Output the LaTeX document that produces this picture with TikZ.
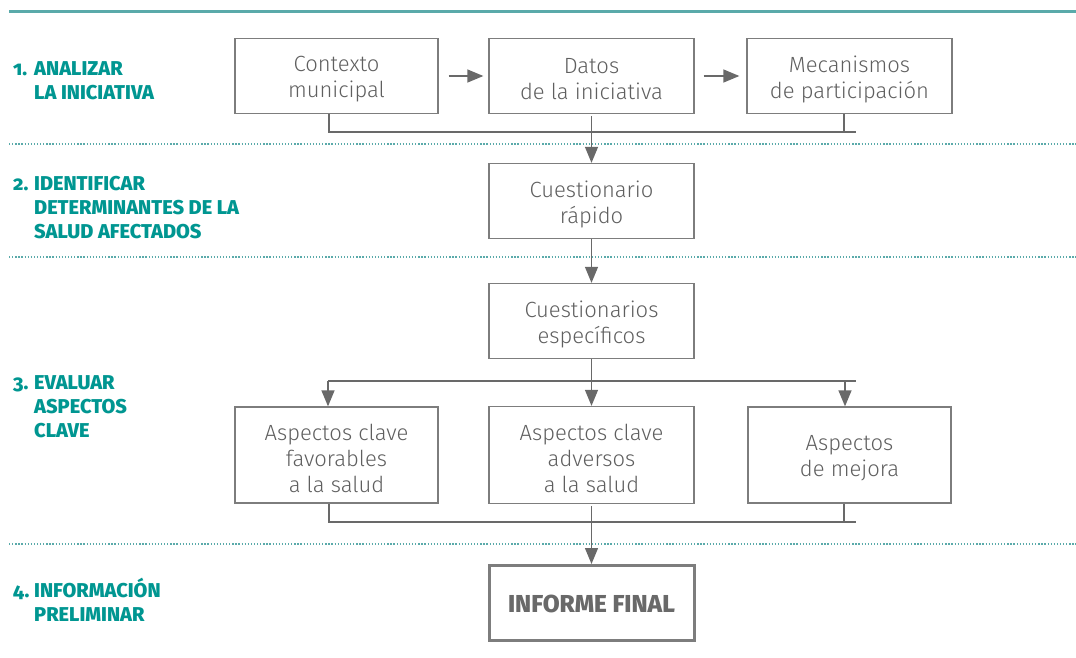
\documentclass[tikz,border=0pt]{standalone}
\usepackage{fontspec}
\setmainfont{Fira Sans}[UprightFont={* Light}, BoldFont={* Bold}]
\newfontfamily\labfont{Fira Sans}[UprightFont={* ExtraBold}, Numbers=OldStyle]
\usetikzlibrary{arrows.meta}
\definecolor{teal1}{RGB}{0,150,145}
\definecolor{tealline}{RGB}{90,170,170}
\definecolor{boxgray}{RGB}{125,125,125}
\definecolor{txtgray}{RGB}{95,95,95}
\definecolor{arrgray}{RGB}{105,105,105}
\newcommand{\steplabel}[3]{\begin{tabular}[t]{@{}l@{}l@{}}\makebox[21pt][l]{#1}&#2\\#3\end{tabular}}
\begin{document}
\begin{tikzpicture}[x=1pt,y=-1pt,
  box/.style={draw=boxgray, line width=1.3pt, minimum width=203pt, minimum height=75pt, inner sep=0pt},
  txt/.style={text=txtgray, align=center, inner sep=0pt, font=\fontsize{22}{26}\selectfont},
  conn/.style={draw=arrgray, line width=1.3pt},
  arr/.style={conn, -{Triangle[length=16pt,width=13pt]}},
  sepline/.style={draw=tealline, line width=1.3pt, dash pattern=on 1.3pt off 1.8pt},
  lab/.style={text=teal1, anchor=base west, inner sep=0pt, font=\labfont\fontsize{20}{24}\selectfont}
]
\useasboundingbox (0,0) rectangle (1076,657);

% rules
\draw[tealline, line width=3pt] (9,11) -- (1076,11);
\draw[sepline] (9,144) -- (1076,144);
\draw[sepline] (9,257) -- (1076,257);
\draw[sepline] (9,544) -- (1076,544);

% step labels
\node[lab] (l1) at (13,75) {\steplabel{1.}{ANALIZAR}{&LA INICIATIVA}};
\node[lab] (l2) at (13,190) {\steplabel{2.}{IDENTIFICAR}{&DETERMINANTES DE LA\\&SALUD AFECTADOS}};
\node[lab] (l3) at (13,389) {\steplabel{3.}{EVALUAR}{&ASPECTOS\\&CLAVE}};
\node[lab] (l4) at (13,597) {\steplabel{4.}{INFORMACIÓN}{&PRELIMINAR}};

% boxes
\node[box] (ctx) at (336.5,76) {};
\node[box, minimum width=205pt] (dat) at (591.5,76) {};
\node[box, minimum width=205pt] (mec) at (849.5,76) {};
\node[box, minimum width=205pt] (qr) at (591.5,201) {};
\node[box, minimum width=205pt] (qe) at (591.5,321) {};
\node[box, minimum height=96pt] (fav) at (336.5,455) {};
\node[box, minimum width=205pt, minimum height=97pt] (adv) at (591.5,455) {};
\node[box, minimum height=96pt] (mej) at (849.5,455) {};
\node[box, minimum width=205pt, line width=3pt] (inf) at (591.5,603) {};

% box texts
\node[txt] (ctx-t) at ([yshift=-3.5pt]ctx.center) {Contexto\\municipal};
\node[txt] (dat-t) at ([yshift=-3.5pt]dat.center) {Datos\\de la iniciativa};
\node[txt] (mec-t) at ([yshift=-3.5pt]mec.center) {Mecanismos\\de participación};
\node[txt] (qr-t) at ([yshift=-3.5pt]qr.center) {Cuestionario\\rápido};
\node[txt] (qe-t) at ([yshift=-3.5pt]qe.center) {Cuestionarios\\específicos};
\node[txt] (fav-t) at ([yshift=-3.5pt]fav.center) {Aspectos clave\\favorables\\a la salud};
\node[txt] (adv-t) at ([yshift=-3.5pt]adv.center) {Aspectos clave\\adversos\\a la salud};
\node[txt] (mej-t) at ([yshift=-3.5pt]mej.center) {Aspectos\\de mejora};
\node[txt, text=arrgray, font=\labfont\fontsize{24.5}{28}\selectfont] (inf-t) at ([yshift=-1pt]inf.center) {INFORME FINAL};

% row 1 arrows
\draw[arr] ([xshift=10pt]ctx.east) -- ([xshift=-5pt]dat.west);
\draw[arr] ([xshift=9pt]dat.east) -- ([xshift=-7pt]mec.west);

% bus 1
\coordinate (b1l) at (329,132);
\coordinate (b1m) at (844,132);
\coordinate (b1r) at (856,132);
\draw[conn] (b1l |- ctx.south) -- (b1l) -- (b1r);
\draw[conn] (b1m |- mec.south) -- (b1m);
\draw[arr] ([yshift=-2pt]dat.south) -- (qr.north);
\draw[arr] (qr.south) -- (qe.north);

% bus 2
\coordinate (b2l) at (328,381);
\coordinate (b2m) at (845,381);
\coordinate (b2r) at (856,381);
\draw[conn] (b2l) -- (b2r);
\draw[arr] (b2l) -- (b2l |- fav.north);
\draw[arr] (b2m) -- (b2m |- mej.north);
\draw[arr] (qe.south) -- (adv.north);

% bus 3
\coordinate (b3l) at (329,522);
\coordinate (b3m) at (844,522);
\coordinate (b3r) at (856,522);
\draw[conn] (b3l |- fav.south) -- (b3l) -- (b3r);
\draw[conn] (b3m |- mej.south) -- (b3m);
\draw[arr] ([yshift=-2pt]adv.south) -- (inf.north);
\end{tikzpicture}
\end{document}
